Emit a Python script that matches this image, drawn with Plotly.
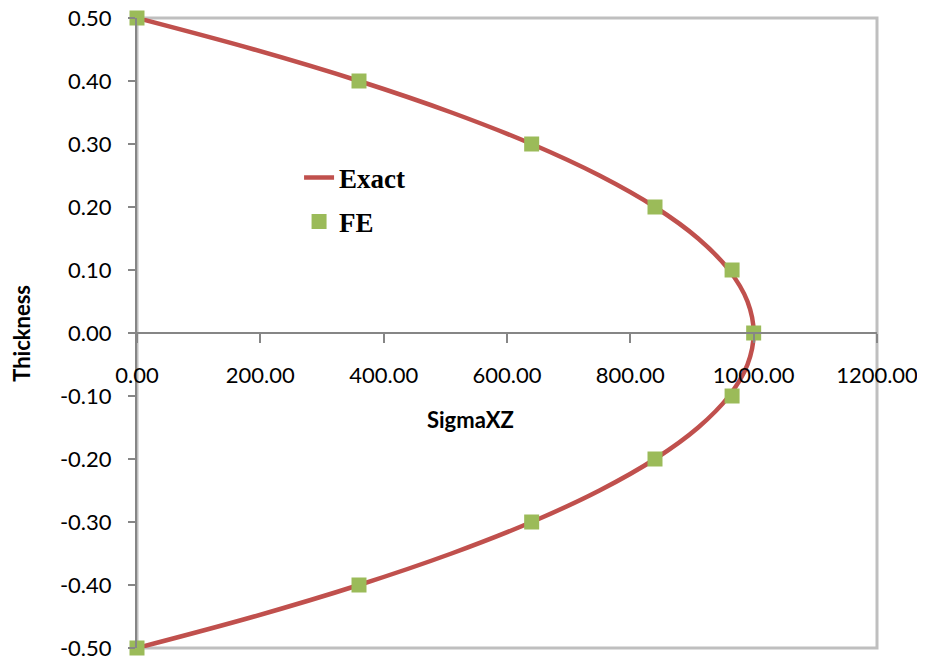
import plotly.graph_objects as go

# Exact solution curve (thickness vs sigma_xz)
exact_z = [0.50, 0.45, 0.40, 0.35, 0.30, 0.25, 0.20, 0.15, 0.10, 0.05, 0.00,
           -0.05, -0.10, -0.15, -0.20, -0.25, -0.30, -0.35, -0.40, -0.45, -0.50]
exact_sigma = [0, 190, 360, 510, 640, 750, 840, 910, 960, 990, 1000,
               990, 960, 910, 840, 750, 640, 510, 360, 190, 0]

# FE results
fe_z = [0.50, 0.40, 0.30, 0.20, 0.10, 0.00, -0.10, -0.20, -0.30, -0.40, -0.50]
fe_sigma = [0, 360, 640, 840, 965, 1000, 965, 840, 640, 360, 0]

x_ticks = [0, 200, 400, 600, 800, 1000, 1200]
y_ticks = [-0.5, -0.4, -0.3, -0.2, -0.1, 0.0, 0.1, 0.2, 0.3, 0.4, 0.5]

fig = go.Figure()
fig.add_trace(go.Scatter(x=exact_sigma, y=exact_z, mode="lines", name="Exact",
                         line=dict(color="#c0504d", width=4.5, shape="spline"),
                         legendgroup="a", cliponaxis=False))
fig.add_trace(go.Scatter(x=fe_sigma, y=fe_z, mode="markers", name="FE",
                         marker=dict(symbol="square", size=15, color="#9bbb59"),
                         legendgroup="b", cliponaxis=False))

# light gray plot border
fig.add_shape(type="rect", xref="x domain", yref="y domain", x0=0, x1=1, y0=0, y1=1,
              line=dict(color="#bfbfbf", width=3), layer="below")

tick_font = dict(family="Lato", size=22, color="black")

fig.update_xaxes(range=[0, 1200], tickvals=x_ticks, ticktext=[f"{v:.2f}" for v in x_ticks],
                 anchor="free", position=0.5, showline=True, linecolor="#868686",
                 linewidth=2, ticks="outside", ticklen=9, tickwidth=2, tickcolor="#868686",
                 ticklabelstandoff=14, showgrid=False, zeroline=False, automargin=False,
                 ticklabeloverflow="allow", tickfont=tick_font)
fig.update_yaxes(range=[-0.5, 0.5], tickvals=y_ticks, ticktext=[f"{v:.2f}" for v in y_ticks],
                 showline=True, linecolor="#868686", linewidth=2,
                 ticks="outside", ticklen=7, tickwidth=2, tickcolor="#868686",
                 ticklabelstandoff=12, showgrid=False, zeroline=False, automargin=False,
                 ticklabeloverflow="allow", tickfont=tick_font)

fig.add_annotation(text="<b>SigmaXZ</b>", xref="paper", yref="paper", x=0.45, y=0.362,
                   xanchor="center", showarrow=False, font=tick_font)
fig.add_annotation(text="<b>Thickness</b>", xref="paper", yref="paper", x=-0.157, y=0.5,
                   xanchor="center", yanchor="middle", textangle=-90, showarrow=False,
                   font=tick_font)

# page body adds an 8px offset, so the figure is 8px smaller
fig.update_layout(
    width=917, height=654,
    margin=dict(l=129, r=48, t=10, b=14),
    plot_bgcolor="white", paper_bgcolor="white",
    legend=dict(x=0.219, y=0.785, xanchor="left", yanchor="top", tracegroupgap=6,
                bgcolor="rgba(0,0,0,0)",
                font=dict(family="Liberation Serif", size=27, color="black", weight="bold")),
)

fig.write_html("out.html")
